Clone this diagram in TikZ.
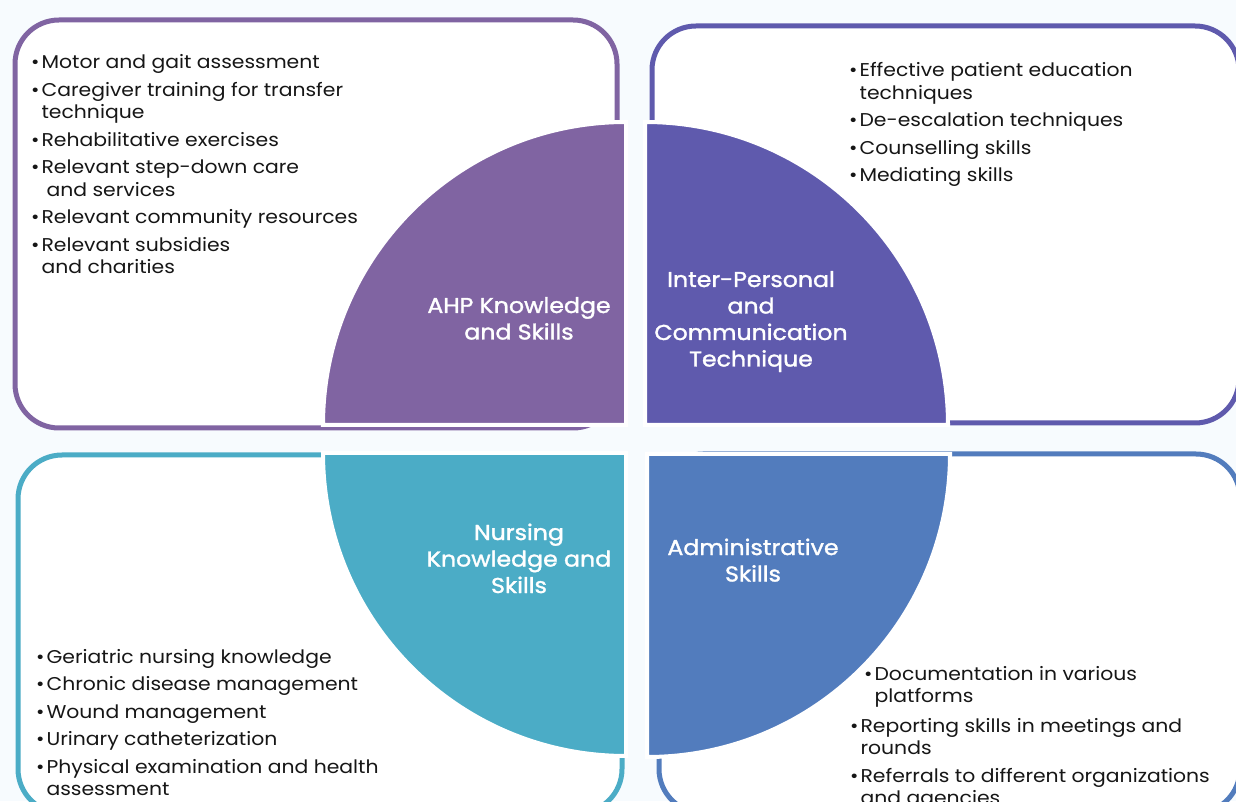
\documentclass[tikz,border=0pt]{standalone}
\usepackage{fontspec}
\setmainfont[FakeStretch=1.1]{Poppins}
\newfontfamily\headfont[FakeBold=1.5,FakeStretch=1.1]{Poppins}
\definecolor{pagetint}{HTML}{F7FBFE}
\definecolor{ahpcol}{HTML}{8064A2}
\definecolor{ipcol}{HTML}{5F5AAD}
\definecolor{nurcol}{HTML}{4BACC6}
\definecolor{admcol}{HTML}{527CBD}
\definecolor{bodyink}{HTML}{161616}
\tikzset{
  frame/.style={line width=5pt, fill=white, rounded corners=44pt},
  quarter/.style={draw=white, line width=4pt},
  bullets/.style={anchor=base west, inner sep=0pt, text=bodyink,
    font=\fontsize{18.5}{22.5}\selectfont},
  heading/.style={anchor=base, inner sep=0pt, text=white,
    font=\headfont\fontsize{21.5}{26.5}\selectfont}
}
\newcommand{\bul}{\textbullet}
\begin{document}
\begin{tikzpicture}[x=1pt,y=1pt]
\fill[pagetint] (0,0) rectangle (1236,801);
\useasboundingbox (0,0) rectangle (1236,801);

% four outlined panels
\draw[frame, draw=ahpcol] (15,373) rectangle (617,781);
\draw[frame, draw=ipcol]  (652,378) rectangle (1239,775);
\draw[frame, draw=nurcol] (18,-12) rectangle (622,346);
\draw[frame, draw=admcol] (659,-12) rectangle (1240,347);

% four quarter discs
\path[quarter, fill=ahpcol] (626,376) -- ++(-303,0) arc[start angle=180, end angle=90, radius=303] -- cycle;
\path[quarter, fill=ipcol]  (645,376) -- ++(0,303) arc[start angle=90, end angle=0, radius=303] -- cycle;
\path[quarter, fill=nurcol] (626,348) -- ++(-303,0) arc[start angle=180, end angle=270, radius=303] -- cycle;
\path[quarter, fill=admcol] (647,347) -- ++(0,-303) arc[start angle=270, end angle=360, radius=303] -- cycle;

% quarter titles
\node[heading] (ahp) at (519,488) {\begin{tabular}[t]{@{}c@{}}AHP Knowledge\\and Skills\end{tabular}};
\node[heading] (ip) at (751,514) {\begin{tabular}[t]{@{}c@{}}Inter-Personal\\and\\Communication\\Technique\end{tabular}};
\node[heading] (nur) at (519,261) {\begin{tabular}[t]{@{}c@{}}Nursing\\Knowledge and\\Skills\end{tabular}};
\node[heading] (adm) at (753,246) {\begin{tabular}[t]{@{}c@{}}Administrative\\Skills\end{tabular}};

% bullet lists
\node[bullets] (ahplist) at (31,732) {\begin{tabular}[t]{@{}l@{\hspace{2pt}}l@{}}
\bul & Motor and gait assessment\\[5pt]
\bul & Caregiver training for transfer\\
     & technique\\[5pt]
\bul & Rehabilitative exercises\\[5pt]
\bul & Relevant step-down care\\
     & \hspace{5pt}and services\\[5pt]
\bul & Relevant community resources\\[5pt]
\bul & Relevant subsidies\\
     & and charities
\end{tabular}};

\node[bullets] (iplist) at (849,724) {\begin{tabular}[t]{@{}l@{\hspace{2pt}}l@{}}
\bul & Effective patient education\\
     & techniques\\[5pt]
\bul & De-escalation techniques\\[5pt]
\bul & Counselling skills\\[5pt]
\bul & Mediating skills
\end{tabular}};

\node[bullets] (nurlist) at (36,138) {\begin{tabular}[t]{@{}l@{\hspace{2pt}}l@{}}
\bul & Geriatric nursing knowledge\\[5pt]
\bul & Chronic disease management\\[5pt]
\bul & Wound management\\[5pt]
\bul & Urinary catheterization\\[5pt]
\bul & Physical examination and health\\
     & assessment
\end{tabular}};

\node[bullets] (admfirst) at (864,121) {\begin{tabular}[t]{@{}l@{\hspace{2pt}}l@{}}
\bul & Documentation in various\\
     & platforms
\end{tabular}};
\node[bullets] (admrest) at (850,69) {\begin{tabular}[t]{@{}l@{\hspace{2pt}}l@{}}
\bul & Reporting skills in meetings and\\
     & rounds\\[5pt]
\bul & Referrals to different organizations\\
     & and agencies
\end{tabular}};
\end{tikzpicture}
\end{document}
